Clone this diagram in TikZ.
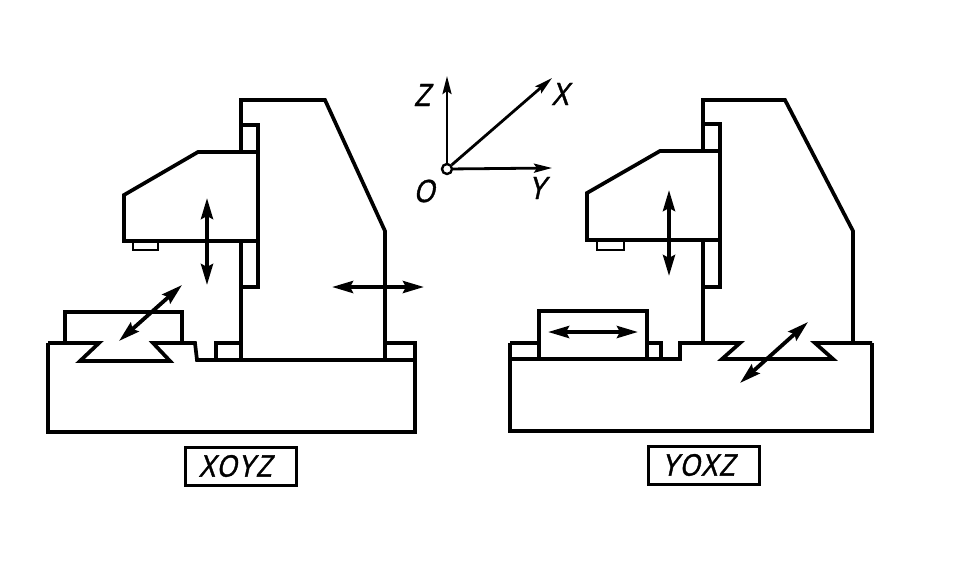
\documentclass[tikz,border=0pt]{standalone}
\usepackage{fontspec}
\usetikzlibrary{arrows.meta}
\newfontfamily\lab[FakeSlant=0.22,FakeStretch=0.82,FakeBold=1.2,LetterSpace=4]{Liberation Sans}
\tikzset{
  part/.style={line width=3.7pt,line join=miter},
  motion/.style={line width=3.8pt,{Stealth[length=21pt,width=12pt,inset=3pt]}-{Stealth[length=21pt,width=12pt,inset=3pt]}},
  axis/.style={line width=2.8pt,-{Stealth[length=18pt,width=9pt,inset=3pt]}},
  axislabel/.style={font=\lab\fontsize{32}{32}\selectfont,inner sep=0pt},
  tag/.style={draw,line width=3pt,minimum width=111pt,minimum height=38pt,inner sep=0pt,font=\lab\fontsize{31}{31}\selectfont},
  originmark/.style={circle,draw,fill=white,line width=2.4pt,minimum size=10pt,inner sep=0pt}
}
\begin{document}
\begin{tikzpicture}[x=1pt,y=-1pt]
\useasboundingbox (0,0) rectangle (954,582);
% left machine
\draw[part] (48,343) -- (99,343) -- (80,361) -- (170,361) -- (153,343) -- (195,343) -- (197,360) -- (415,360);
\draw[part] (48,343) -- (48,432) -- (415,432) -- (415,343) -- (385,343);
\draw[part] (216,360) -- (216,343) -- (241,343);
\draw[part] (241,360) -- (241,241);
\draw[part] (241,152) -- (241,100) -- (325,100) -- (385,231) -- (385,360);
\draw[part] (65,343) -- (65,312) -- (182,312) -- (182,343);
\draw[part] (241,125) -- (258,125) -- (258,287) -- (241,287);
\draw[part] (258,152) -- (198,152) -- (124,195) -- (124,241) -- (258,241);
\draw[line width=2.6pt] (133,243) -- (133,250) -- (158,250) -- (158,243);
\coordinate (lza) at (207,198); \coordinate (lzb) at (207,285);
\coordinate (lya) at (332,287); \coordinate (lyb) at (424,287);
\coordinate (lxa) at (119,341); \coordinate (lxb) at (182,285);
\draw[motion] (lza) -- (lzb);
\draw[motion] (lya) -- (lyb);
\draw[motion] (lxa) -- (lxb);
\node[tag] (ltag) at (241,466) {XOYZ\kern12pt};
% axes
\node[originmark] (o) at (447,169) {};
\coordinate (ztip) at (447,76);
\coordinate (xtip) at (552,78);
\coordinate (ytip) at (552,168);
\draw[axis] (o) -- (ztip);
\draw[axis] (o) -- (xtip);
\draw[axis] (o) -- (ytip);
\node[axislabel] (zl) at (422,95) {Z};
\node[axislabel] (xl) at (560,94) {X};
\node[axislabel] (yl) at (537,188) {Y};
\node[axislabel] (ol) at (424,191) {O};
% right machine
\draw[part] (510,343) -- (539,343);
\draw[part] (510,359) -- (680,359) -- (680,343) -- (740,343) -- (722,359) -- (833,359) -- (815,343) -- (872,343);
\draw[part] (510,343) -- (510,431) -- (872,431) -- (872,343);
\draw[part] (539,359) -- (539,311) -- (647,311) -- (647,359);
\draw[part] (647,343) -- (661,343) -- (661,359);
\draw[part] (703,343) -- (703,240);
\draw[part] (703,151) -- (703,100) -- (785,100) -- (853,231) -- (853,343);
\draw[part] (703,124) -- (720,124) -- (720,287) -- (703,287);
\draw[part] (720,151) -- (660,151) -- (587,193) -- (587,240) -- (720,240);
\draw[line width=2.6pt] (597,242) -- (597,250) -- (624,250) -- (624,242);
\coordinate (rza) at (669,190); \coordinate (rzb) at (669,276);
\coordinate (rya) at (548,332); \coordinate (ryb) at (638,332);
\coordinate (rxa) at (740,383); \coordinate (rxb) at (808,322);
\draw[motion] (rza) -- (rzb);
\draw[motion] (rya) -- (ryb);
\draw[motion] (rxa) -- (rxb);
\node[tag] (rtag) at (704,465) {YOXZ\kern12pt};
\end{tikzpicture}
\end{document}
